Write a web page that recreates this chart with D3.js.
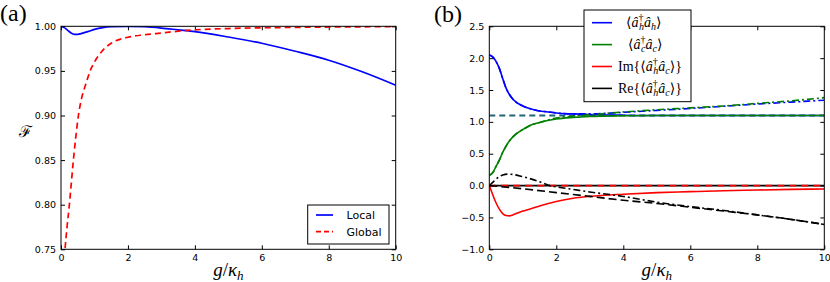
<!DOCTYPE html>
<html>
<head>
<meta charset="utf-8">
<script src="https://cdn.jsdelivr.net/npm/d3@7"></script>
<style>
  body { margin: 0; background: #fff; }
  .tick text { font-family: "DejaVu Sans", sans-serif; font-size: 9.5px; fill: #000; }
  .tick line { stroke: #000; }
</style>
</head>
<body>
<script>
// Panel (a): fidelity vs g/kappa_h
const localG = [0, 0.1, 0.2, 0.3, 0.4, 0.5, 0.6, 0.8, 1, 1.25, 1.5, 2, 2.5, 3, 3.5, 4, 5, 6, 7, 8, 9, 10];
const localF = [1.0, 0.9985, 0.9955, 0.9925, 0.991, 0.991, 0.9918, 0.994, 0.9965, 0.9985, 0.9995, 1.0, 0.9995, 0.998, 0.996, 0.994, 0.988, 0.981, 0.972, 0.962, 0.949, 0.934];
const globalG = [0.1, 0.12, 0.18, 0.25, 0.31, 0.37, 0.44, 0.52, 0.62, 0.74, 0.87, 1.0, 1.2, 1.5, 2, 2.5, 3, 3.5, 4, 5, 6, 8, 10];
const globalF = [0.74, 0.75, 0.775, 0.80, 0.825, 0.85, 0.875, 0.90, 0.92, 0.935, 0.95, 0.96, 0.971, 0.981, 0.9877, 0.9905, 0.9925, 0.9945, 0.996, 0.9975, 0.9983, 0.9992, 0.9996];
const ticksA = [0.75, 0.80, 0.85, 0.90, 0.95, 1.00];

// Panel (b): populations and coherences
const hG = [0, 0.1, 0.2, 0.3, 0.4, 0.5, 0.6, 0.7, 0.8, 1.0, 1.2, 1.5, 1.7, 2, 2.5, 3, 4, 5, 6, 7, 8, 9, 10];
const nhExact = [2.05, 2.02, 1.95, 1.84, 1.68, 1.53, 1.43, 1.36, 1.31, 1.25, 1.21, 1.17, 1.16, 1.14, 1.125, 1.115, 1.105, 1.1, 1.1, 1.1, 1.1, 1.1, 1.1];
const nhApprox = [2.05, 2.02, 1.95, 1.84, 1.68, 1.53, 1.43, 1.36, 1.31, 1.25, 1.21, 1.17, 1.16, 1.14, 1.125, 1.125, 1.15, 1.18, 1.21, 1.245, 1.28, 1.31, 1.34];
const cG = [0, 0.1, 0.2, 0.3, 0.4, 0.5, 0.6, 0.8, 1.0, 1.2, 1.5, 2, 2.5, 3, 4, 5, 6, 7, 8, 9, 10];
const ncExact = [0.16, 0.2, 0.3, 0.4, 0.52, 0.62, 0.7, 0.81, 0.88, 0.94, 0.99, 1.045, 1.07, 1.085, 1.095, 1.1, 1.1, 1.1, 1.1, 1.1, 1.1];
const ncApprox = [0.16, 0.2, 0.3, 0.4, 0.52, 0.62, 0.7, 0.81, 0.88, 0.94, 0.99, 1.06, 1.09, 1.11, 1.155, 1.19, 1.22, 1.25, 1.29, 1.33, 1.38];
const imG = [0, 0.1, 0.2, 0.3, 0.4, 0.5, 0.6, 0.7, 0.8, 1.0, 1.2, 1.5, 2, 2.5, 3, 4, 5, 6, 7, 8, 9, 10];
const imExact = [0, -0.14, -0.27, -0.37, -0.44, -0.47, -0.475, -0.46, -0.44, -0.4, -0.37, -0.32, -0.25, -0.2, -0.17, -0.135, -0.11, -0.095, -0.08, -0.07, -0.06, -0.053];
const reG = [0, 0.1, 0.2, 0.3, 0.4, 0.55, 0.7, 1.0, 1.5, 1.8, 2, 2.5, 3, 4, 5, 6, 7, 8, 9, 10];
const reApprox = [0, 0.05, 0.1, 0.14, 0.165, 0.18, 0.175, 0.14, 0.06, 0.0, -0.02, -0.06, -0.1, -0.17, -0.26, -0.33, -0.39, -0.46, -0.53, -0.61];
const reLinG = [0, 1, 2, 3, 4, 5, 6, 7, 8, 9, 10];
const reLinear = [0, -0.05, -0.11, -0.17, -0.23, -0.28, -0.34, -0.4, -0.46, -0.53, -0.61];
const steadyG = [0, 10];
const steadyN = [1.1, 1.1];
const zeroLine = [0, 0];
const ticksB = [-1.0, -0.5, 0.0, 0.5, 1.0, 1.5, 2.0, 2.5];
const xTicks = [0, 2, 4, 6, 8, 10];

const W = 830, H = 282;
const plotTop = 26.3, plotBottom = 249.3;
const svg = d3.select("body").append("svg").attr("width", W).attr("height", H);

const xA = d3.scaleLinear().domain([0, 10]).range([61, 395.7]);
const yA = d3.scaleLinear().domain([0.75, 1.0]).range([plotBottom, plotTop]);
const xB = d3.scaleLinear().domain([0, 10]).range([489.3, 824.3]);
const yB = d3.scaleLinear().domain([-1.0, 2.5]).range([plotBottom, plotTop]);

const fmtMinus = f => v => d3.format(f)(v).replace("-", "\u2212");

function frame(id, x, y, yTicks, yFmt) {
  const g = svg.append("g");
  const [x0, x1] = x.range();
  g.append("defs").append("clipPath").attr("id", id)
    .append("rect").attr("x", x0).attr("y", plotTop).attr("width", x1 - x0).attr("height", plotBottom - plotTop);
  const ax = [
    [d3.axisBottom(x).tickValues(xTicks).tickFormat(d3.format("d")), `translate(0,${plotBottom})`],
    [d3.axisTop(x).tickValues(xTicks).tickFormat(""), `translate(0,${plotTop})`],
    [d3.axisLeft(y).tickValues(yTicks).tickFormat(fmtMinus(yFmt)), `translate(${x0},0)`],
    [d3.axisRight(y).tickValues(yTicks).tickFormat(""), `translate(${x1},0)`]
  ];
  ax.forEach(([a, t]) => {
    const ga = g.append("g").attr("transform", t).call(a.tickSize(-4).tickPadding(5));
    ga.select(".domain").remove();
  });
  return g;
}

function line(g, clip, x, y, xs, ys, color, dash, width) {
  const pts = xs.map((v, i) => [v, ys[i]]);
  g.append("path")
    .attr("clip-path", `url(#${clip})`)
    .attr("d", d3.line().x(d => x(d[0])).y(d => y(d[1])).curve(d3.curveMonotoneX)(pts))
    .attr("fill", "none")
    .attr("stroke", color)
    .attr("stroke-width", width || 1.6)
    .attr("stroke-dasharray", dash || null);
}

function border(g, x) {
  const [x0, x1] = x.range();
  g.append("rect").attr("x", x0).attr("y", plotTop).attr("width", x1 - x0).attr("height", plotBottom - plotTop)
    .attr("fill", "none").attr("stroke", "#000").attr("stroke-width", 1);
}

// ---- panel (a)
const gA = frame("clipA", xA, yA, ticksA, ".2f");
line(gA, "clipA", xA, yA, localG, localF, "#0000ff", null, 1.7);
line(gA, "clipA", xA, yA, globalG, globalF, "#ff0000", "6,4", 1.7);
border(gA, xA);

// ---- panel (b)
const gB = frame("clipB", xB, yB, ticksB, ".1f");
line(gB, "clipB", xB, yB, steadyG, steadyN, "#1f6478", "6,4", 1.8);
line(gB, "clipB", xB, yB, hG, nhExact, "#0000ff");
line(gB, "clipB", xB, yB, cG, ncExact, "#008000");
line(gB, "clipB", xB, yB, hG, nhApprox, "#0000ff", "7,3,2,3");
line(gB, "clipB", xB, yB, cG, ncApprox, "#008000", "7,3,2,3");
line(gB, "clipB", xB, yB, steadyG, zeroLine, "#000000");
line(gB, "clipB", xB, yB, steadyG, zeroLine, "#ff0000", "7,5");
line(gB, "clipB", xB, yB, imG, imExact, "#ff0000");
line(gB, "clipB", xB, yB, reLinG, reLinear, "#000000", "8,4");
line(gB, "clipB", xB, yB, reG, reApprox, "#000000", "7,3,2,3");
border(gB, xB);

// ---- labels
const serif = "'Liberation Serif', 'DejaVu Serif', serif";
svg.append("text").attr("x", 0).attr("y", 21).attr("font-family", serif).attr("font-size", 24).text("(a)");
svg.append("text").attr("x", 434).attr("y", 22).attr("font-family", serif).attr("font-size", 24).text("(b)");

svg.append("text").attr("x", 25).attr("y", 137).attr("text-anchor", "middle")
  .attr("font-family", "'DejaVu Serif', serif").attr("font-size", 16).text("\u2131");

function xlabel(cx) {
  const t = svg.append("text").attr("x", cx).attr("y", 276).attr("text-anchor", "middle")
    .attr("font-family", serif).attr("font-size", 19);
  t.append("tspan").attr("font-style", "italic").text("g");
  t.append("tspan").text("/");
  t.append("tspan").attr("font-style", "italic").text("\u03ba");
  t.append("tspan").attr("font-style", "italic").attr("font-size", 13).attr("dy", 4).text("h");
}
xlabel((xA(0) + xA(10)) / 2);
xlabel((xB(0) + xB(10)) / 2);

// ---- legend (a)
const legA = svg.append("g");
legA.append("rect").attr("x", 307.7).attr("y", 205).attr("width", 81.3).attr("height", 39)
  .attr("fill", "#fff").attr("stroke", "#000").attr("stroke-width", 1);
[["Local", "#0000ff", null], ["Global", "#ff0000", "5,3"]].forEach(([lab, c, dash], i) => {
  const yy = 215 + i * 16.7;
  legA.append("line").attr("x1", 316).attr("x2", 333).attr("y1", yy).attr("y2", yy)
    .attr("stroke", c).attr("stroke-width", 1.7).attr("stroke-dasharray", dash);
  legA.append("text").attr("x", 346.5).attr("y", yy + 4).attr("font-family", "'DejaVu Sans', sans-serif")
    .attr("font-size", 11).text(lab);
});

// ---- legend (b)
const legB = svg.append("g");
legB.append("rect").attr("x", 584).attr("y", 10).attr("width", 107).attr("height", 91.7)
  .attr("fill", "#fff").attr("stroke", "#000").attr("stroke-width", 1);

// segments: [text, kind]  kind: n (upright), i (italic), sup, sub (stacked under previous sup), s (plain sub)
const legendB = [
  { color: "#0000ff", indent: 8, segs: [["\u27e8", "n"], ["\u00e2", "i"], ["\u2020", "sup"], ["h", "sub"], ["\u00e2", "i"], ["h", "s"], ["\u27e9", "n"]] },
  { color: "#008000", indent: 10, segs: [["\u27e8", "n"], ["\u00e2", "i"], ["\u2020", "sup"], ["c", "sub"], ["\u00e2", "i"], ["c", "s"], ["\u27e9", "n"]] },
  { color: "#ff0000", indent: 0, segs: [["Im{\u27e8", "n"], ["\u00e2", "i"], ["\u2020", "sup"], ["h", "sub"], ["\u00e2", "i"], ["c", "s"], ["\u27e9}", "n"]] },
  { color: "#000000", indent: 0, segs: [["Re{\u27e8", "n"], ["\u00e2", "i"], ["\u2020", "sup"], ["h", "sub"], ["\u00e2", "i"], ["c", "s"], ["\u27e9}", "n"]] }
];
legendB.forEach((item, i) => {
  const yy = 22.7 + i * 21.9;
  legB.append("line").attr("x1", 592).attr("x2", 612).attr("y1", yy).attr("y2", yy)
    .attr("stroke", item.color).attr("stroke-width", 1.6);
  const base = yy + 4.5;
  const t = legB.append("text").attr("x", 618 + item.indent).attr("y", base)
    .attr("font-family", serif).attr("font-size", 14);
  item.segs.forEach(([s, k]) => {
    const sp = t.append("tspan").text(s);
    if (k === "n") sp.attr("y", base);
    if (k === "i") sp.attr("y", base).attr("font-style", "italic");
    if (k === "sup") sp.attr("y", base - 6).attr("font-size", 10);
    if (k === "sub") sp.attr("y", base + 3).attr("dx", -4.5).attr("font-size", 10).attr("font-style", "italic");
    if (k === "s") sp.attr("y", base + 3).attr("font-size", 10).attr("font-style", "italic");
  });
});
</script>
</body>
</html>
